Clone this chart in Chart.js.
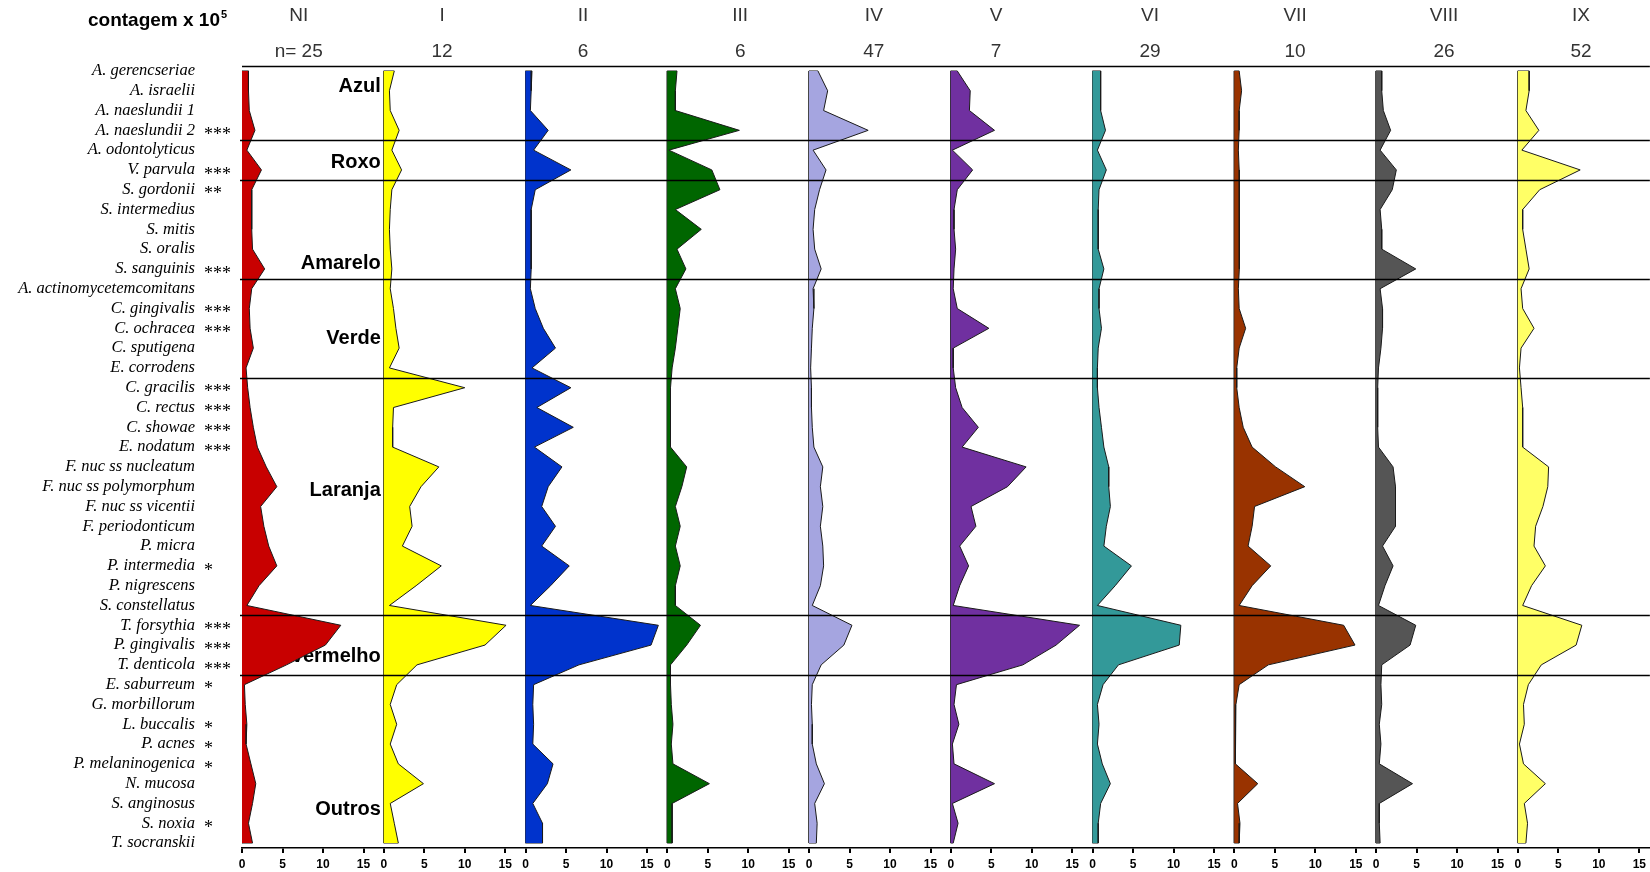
<!DOCTYPE html>
<html>
<head>
<meta charset="utf-8">
<script src="https://cdn.jsdelivr.net/npm/chart.js@4.4.0/dist/chart.umd.min.js"></script>
<style>
html, body { margin: 0; padding: 0; background: #fff; }
#wrap { width: 1650px; height: 872px; position: relative; }
</style>
</head>
<body>
<div id="wrap"><canvas id="chart"></canvas></div>
<script>
// species (rows, top to bottom) and significance marks
const species = ['A. gerencseriae','A. israelii','A. naeslundii 1','A. naeslundii 2','A. odontolyticus','V. parvula',
  'S. gordonii','S. intermedius','S. mitis','S. oralis','S. sanguinis','A. actinomycetemcomitans',
  'C. gingivalis','C. ochracea','C. sputigena','E. corrodens','C. gracilis','C. rectus','C. showae','E. nodatum',
  'F. nuc ss nucleatum','F. nuc ss polymorphum','F. nuc ss vicentii','F. periodonticum','P. micra','P. intermedia',
  'P. nigrescens','S. constellatus','T. forsythia','P. gingivalis','T. denticola','E. saburreum','G. morbillorum',
  'L. buccalis','P. acnes','P. melaninogenica','N. mucosa','S. anginosus','S. noxia','T. socranskii'];
const stars = ['','','','***','','***','**','','','','***','','***','***','','','***','***','***','***',
  '','','','','','*','','','***','***','***','*','','*','*','*','','','*',''];

// complexes
const groups = ['Azul','Roxo','Amarelo','Verde','Laranja','vermelho','Outros'];
const groupRows = [0.8, 4.6, 9.7, 13.5, 21.2, 29.6, 37.3];
const groupBreaks = [3.5, 5.5, 10.5, 15.5, 27.5, 30.5];

// clusters
const clusters = ['NI','I','II','III','IV','V','VI','VII','VIII','IX'];
const nCounts = [25, 12, 6, 6, 47, 7, 29, 10, 26, 52];
const xTicks = [0, 5, 10, 15];

// counts x 10^5, one array per cluster
const ni   = [0.8,0.8,0.9,1.6,0.6,2.4,1.2,1.2,1.2,1.3,2.8,1.2,0.9,1.0,1.4,0.5,0.7,1.0,1.4,1.9,3.0,4.3,2.3,2.7,3.3,4.3,2.1,0.6,12.2,10.3,5.5,0.3,0.4,0.6,0.5,1.1,1.7,1.3,0.8,1.3];
const c1   = [1.3,0.7,0.8,1.9,1.0,2.2,1.0,0.8,0.7,0.8,1.0,0.8,1.2,1.5,1.9,0.7,10.0,1.2,1.1,1.1,6.8,4.6,3.2,3.5,2.3,7.1,4.0,0.7,15.1,12.5,4.1,1.6,0.8,1.6,0.8,1.8,4.9,0.8,1.3,1.8];
const c2   = [0.8,0.7,0.6,2.8,1.0,5.6,1.2,0.7,0.7,0.7,0.7,0.6,1.2,2.2,3.7,0.8,5.6,1.4,5.9,1.1,4.5,2.8,2.0,3.7,2.0,5.4,3.1,0.6,16.4,15.5,6.6,1.0,0.9,1.0,0.9,3.4,2.7,0.9,2.1,2.1];
const c3   = [1.2,1.0,1.0,8.9,0.2,5.5,6.5,1.0,4.2,1.2,2.3,1.0,1.6,1.3,1.0,0.6,0.4,0.4,0.4,0.4,2.4,1.8,1.0,1.6,1.0,1.6,1.0,1.0,4.1,2.4,0.4,0.4,0.5,0.7,0.5,0.7,5.2,0.6,0.6,0.6];
const c4   = [1.1,2.3,1.8,7.3,0.5,2.1,1.3,0.7,0.5,0.7,1.5,0.5,0.6,0.4,0.3,0.2,0.3,0.3,0.4,0.6,1.7,1.4,1.7,1.4,1.7,1.8,1.4,0.4,5.3,4.3,1.5,0.4,0.3,0.4,0.4,0.9,1.9,0.7,1.0,0.9];
const c5   = [0.8,2.4,2.3,5.4,0.2,2.7,0.8,0.4,0.4,0.6,0.4,0.3,0.8,4.7,0.3,0.3,0.6,1.4,3.4,1.4,9.3,7.0,2.5,3.1,1.1,2.2,1.1,0.3,15.9,13.0,8.9,0.7,0.4,1.0,0.2,0.4,5.4,0.2,0.9,0.3];
const c6   = [1.0,1.0,1.0,1.6,0.6,1.7,0.8,0.7,0.7,0.7,1.4,0.8,0.8,1.1,0.7,0.6,0.6,0.8,1.1,1.4,2.0,2.0,2.2,1.7,1.4,4.8,2.8,0.6,10.9,10.7,3.2,1.3,0.6,0.8,0.6,1.2,2.2,1.0,0.7,0.7];
const c7   = [0.6,0.9,0.6,0.6,0.5,0.6,0.7,0.6,0.6,0.6,0.6,0.5,0.6,1.4,0.6,0.3,0.3,0.6,1.1,2.2,5.1,8.7,2.5,2.2,1.7,4.5,2.2,0.6,13.5,14.9,4.2,0.6,0.2,0.1,0.1,0.2,2.9,0.4,0.7,0.6];
const c8   = [0.7,0.7,0.9,1.8,0.5,2.5,2.0,0.5,0.7,0.7,4.9,0.5,0.8,0.8,0.6,0.3,0.2,0.2,0.2,0.3,2.1,2.4,2.4,2.4,0.8,2.1,1.1,0.3,4.9,4.2,0.7,0.6,0.7,0.4,0.6,0.4,4.5,0.4,0.4,0.5];
const c9   = [1.4,1.4,1.0,2.6,0.5,7.7,2.7,0.6,0.6,1.0,1.4,0.4,0.6,2.0,0.4,0.2,0.4,0.6,0.6,0.6,3.8,3.7,3.1,2.2,2.0,3.4,1.7,0.6,7.9,7.2,2.9,1.3,0.7,0.8,0.2,0.7,3.4,0.8,1.2,1.0];
const series = [ni, c1, c2, c3, c4, c5, c6, c7, c8, c9];

const colors = ['#C80000','#FFFF00','#0033CC','#006600','#A5A5E0','#7030A0','#339999','#993300','#555555','#FFFF66'];

// layout: each cluster panel is PANEL units wide on one shared x axis
const PANEL = 17.5;
const headerX = [7.0, 7.2, 7.1, 9.0, 8.0, 5.6, 7.1, 7.5, 8.4, 7.8];

const datasets = [];
series.forEach((vals, k) => {
  const off = k * PANEL;
  datasets.push({
    data: vals.map((v, i) => ({x: off + v, y: i})),
    backgroundColor: colors[k],
    borderColor: '#1a1a1a',
    borderWidth: 1,
    pointRadius: 0,
    tension: 0,
    fill: {value: off}
  });
  // base line and flat ends of each profile
  const last = vals.length - 1;
  datasets.push({
    data: [{x: off + vals[0], y: 0}, {x: off, y: 0}, {x: off, y: last}, {x: off + vals[last], y: last}],
    borderColor: '#2a2a2a',
    borderWidth: 1,
    pointRadius: 0,
    fill: false
  });
});

const annotate = {
  id: 'annotate',
  beforeDatasetsDraw(chart) {
    const {ctx, scales: {x, y}} = chart;
    ctx.save();
    ctx.font = 'bold 20px "Liberation Sans", Arial, sans-serif';
    ctx.fillStyle = '#000';
    ctx.textAlign = 'right';
    ctx.textBaseline = 'middle';
    const gx = x.getPixelForValue(PANEL) - 3;
    groups.forEach((g, j) => ctx.fillText(g, gx, y.getPixelForValue(groupRows[j])));
    ctx.restore();
  },
  afterDatasetsDraw(chart) {
    const {ctx, chartArea, scales: {x, y}} = chart;
    ctx.save();
    // complex dividers
    ctx.strokeStyle = '#000';
    ctx.lineWidth = 1.5;
    ctx.beginPath();
    ctx.moveTo(chartArea.left, chartArea.top + 0.5);
    ctx.lineTo(chartArea.right, chartArea.top + 0.5);
    groupBreaks.forEach(b => {
      const py = Math.round(y.getPixelForValue(b)) + 0.5;
      ctx.moveTo(chartArea.left - 2, py);
      ctx.lineTo(chartArea.right, py);
    });
    ctx.stroke();

    // cluster headers
    ctx.fillStyle = '#333';
    ctx.font = '19px "Liberation Sans", Arial, sans-serif';
    ctx.textAlign = 'center';
    ctx.textBaseline = 'middle';
    clusters.forEach((c, k) => {
      const px = x.getPixelForValue(k * PANEL + headerX[k]);
      ctx.fillText(c, px, 16);
      ctx.fillText(k === 0 ? 'n= ' + nCounts[k] : String(nCounts[k]), px, 52);
    });

    // significance stars
    ctx.fillStyle = '#000';
    ctx.font = '18px "Liberation Serif", "Times New Roman", serif';
    ctx.textAlign = 'left';
    stars.forEach((s, i) => {
      if (s) ctx.fillText(s, chartArea.left - 38, y.getPixelForValue(i) + 5);
    });

    // axis caption
    ctx.font = 'bold 19px "Liberation Sans", Arial, sans-serif';
    ctx.fillText('contagem x 10', 88, 21);
    const w = ctx.measureText('contagem x 10').width;
    ctx.font = 'bold 11px "Liberation Sans", Arial, sans-serif';
    ctx.fillText('5', 88 + w + 1, 15);
    ctx.restore();
  }
};

new Chart(document.querySelector('#chart').getContext('2d'), {
  type: 'line',
  data: {datasets},
  options: {
    responsive: true,
    maintainAspectRatio: false,
    animation: false,
    indexAxis: 'y',
    layout: {padding: {top: 66, left: 0, right: 0, bottom: 0}},
    plugins: {legend: {display: false}, tooltip: {enabled: false}},
    scales: {
      x: {
        type: 'linear',
        position: 'bottom',
        min: 0,
        max: 173.8,
        grid: {drawOnChartArea: false, drawTicks: true, tickLength: 5, color: '#000', lineWidth: 2},
        border: {display: true, color: '#000', width: 1.5},
        ticks: {
          color: '#000',
          padding: 4,
          autoSkip: false,
          maxRotation: 0,
          font: {family: '"Liberation Sans", Arial, sans-serif', size: 12, weight: 'bold'},
          callback: v => String(Math.round(v - Math.floor((v + 0.01) / PANEL) * PANEL))
        },
        afterBuildTicks: s => {
          s.ticks = [];
          clusters.forEach((c, k) => xTicks.forEach(t => s.ticks.push({value: k * PANEL + t})));
        },
        afterFit: s => { s.height = 24; }
      },
      y: {
        type: 'linear',
        reverse: true,
        min: -0.25,
        max: 39.25,
        grid: {display: false, drawTicks: false},
        border: {display: false},
        ticks: {
          color: '#000',
          padding: 47,
          autoSkip: false,
          font: {family: '"Liberation Serif", "Times New Roman", serif', style: 'italic', size: 16.5},
          callback: v => species[v] || ''
        },
        afterBuildTicks: s => { s.ticks = species.map((_, i) => ({value: i})); },
        afterFit: s => { s.width = 242; s.paddingTop = 0; s.paddingBottom = 0; }
      }
    }
  },
  plugins: [annotate]
});
</script>
</body>
</html>
